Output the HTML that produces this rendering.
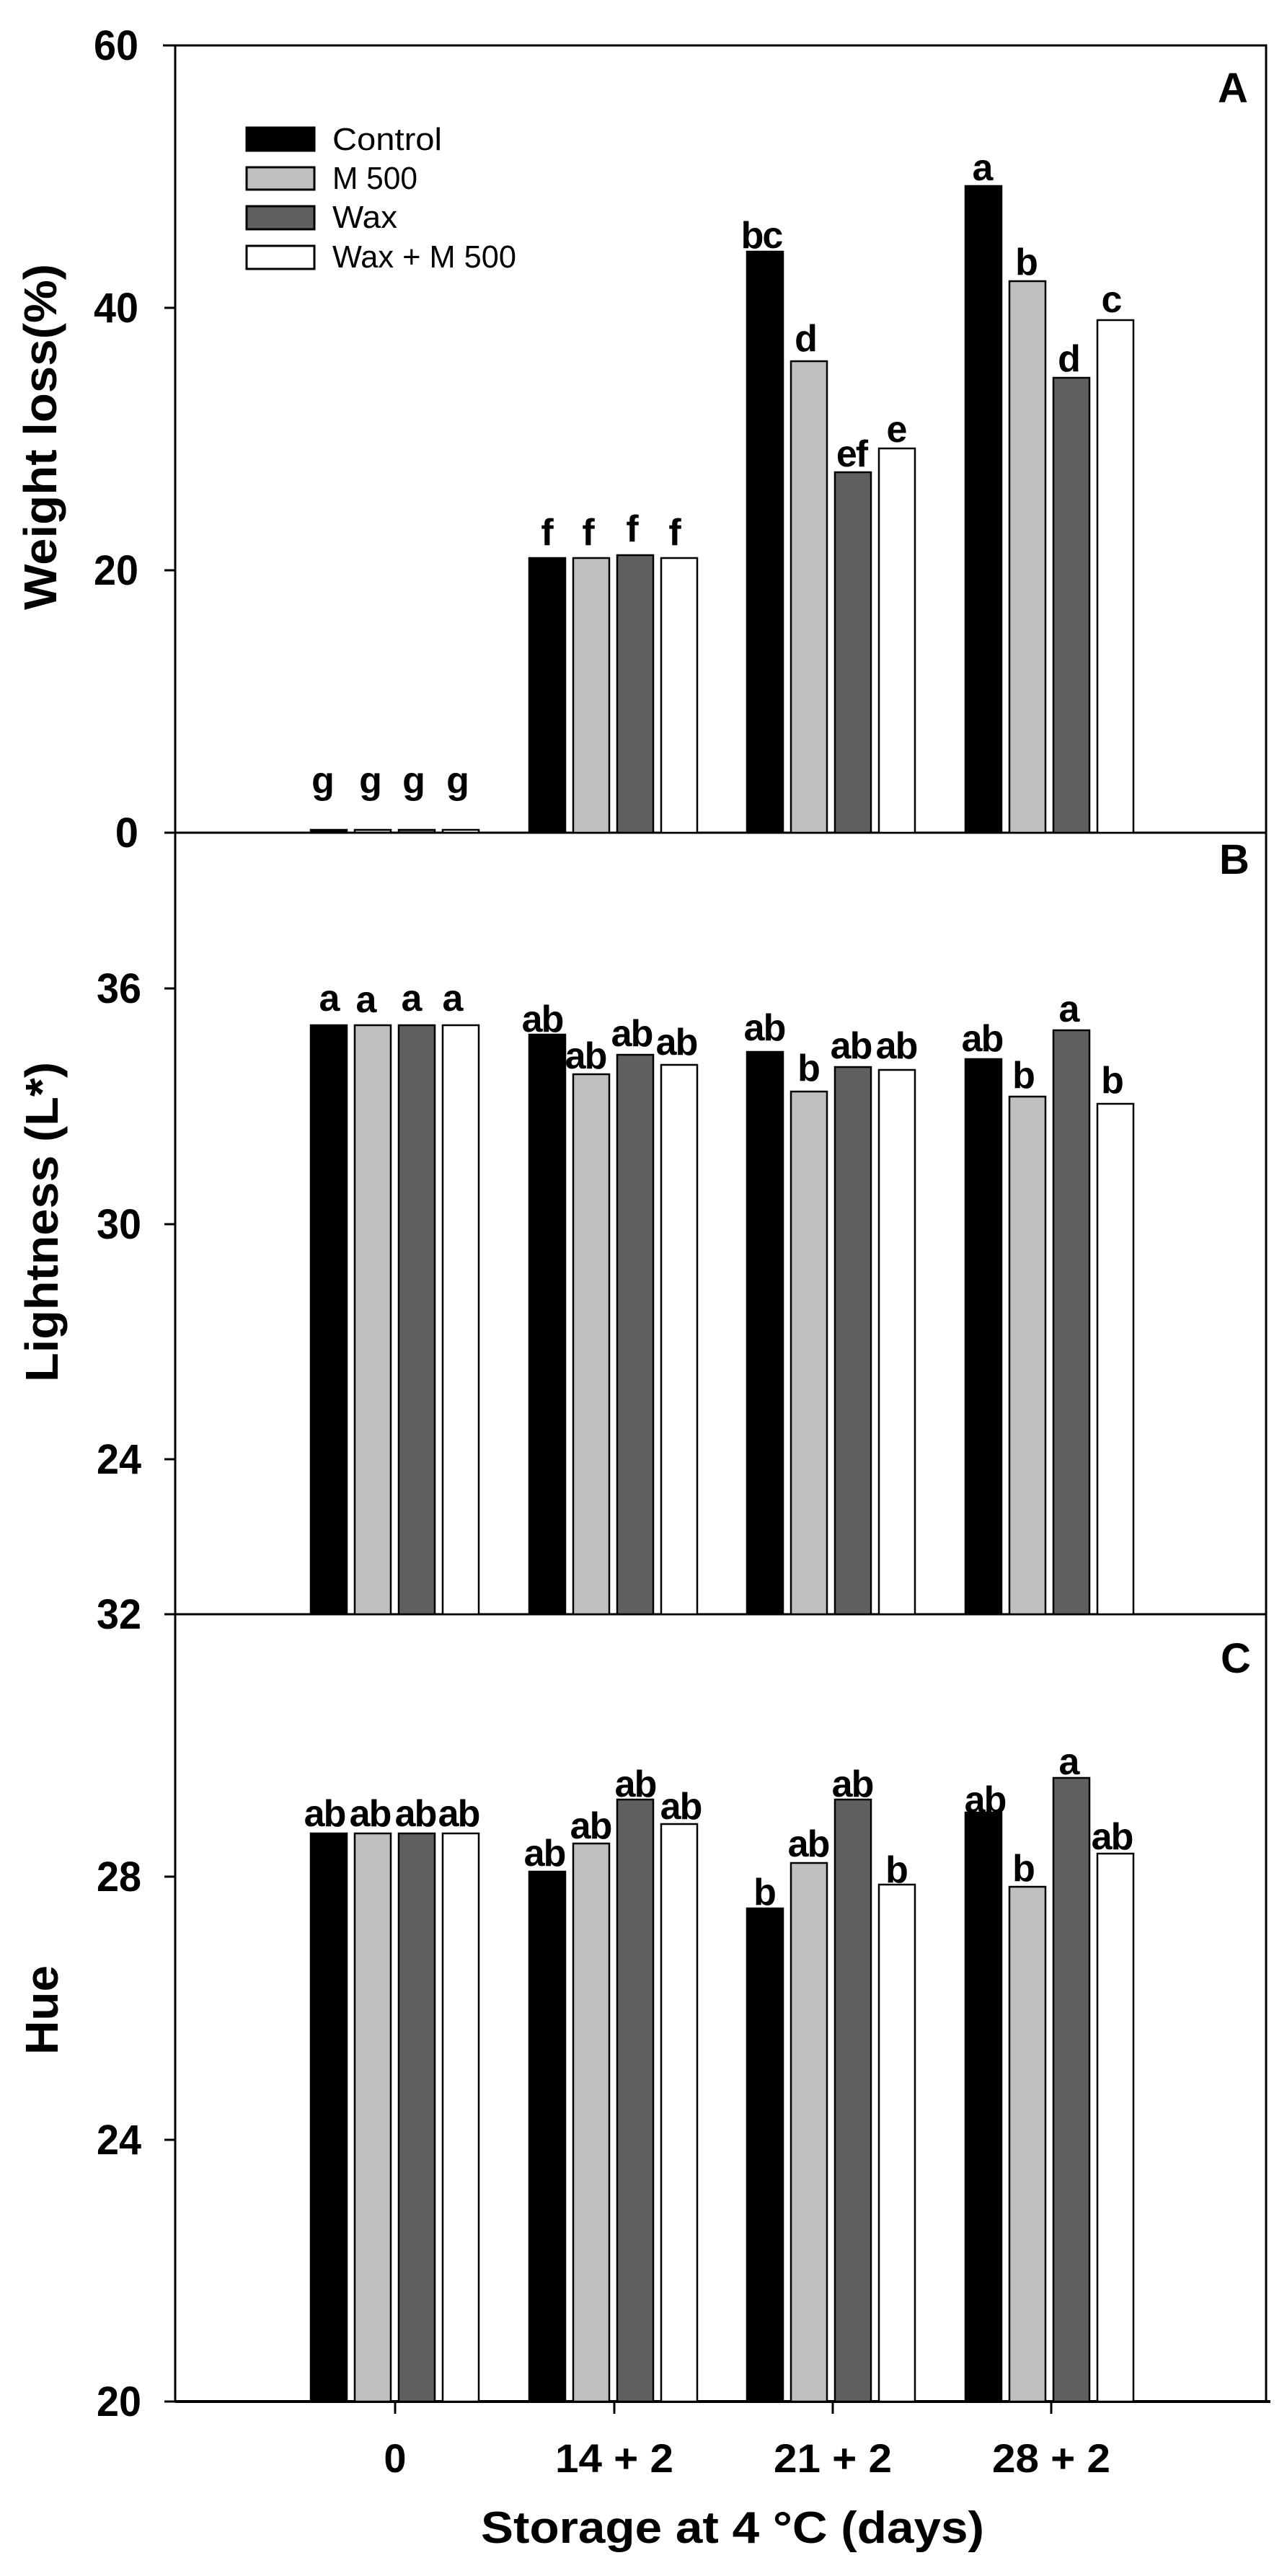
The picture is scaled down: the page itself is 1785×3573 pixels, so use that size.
<!DOCTYPE html>
<html><head><meta charset="utf-8"><style>
html,body{margin:0;padding:0;background:#fff;}
svg{display:block;}
text{font-family:"Liberation Sans",Arial,sans-serif;font-weight:bold;fill:#000;}
.lt text{letter-spacing:-2px;}
</style></head><body>
<svg width="1785" height="3573" viewBox="0 0 1785 3573" xmlns="http://www.w3.org/2000/svg">
<g stroke="#000" stroke-width="3" fill="none">
<rect x="243" y="63" width="1513" height="1092"/>
<rect x="243" y="1155" width="1513" height="1084"/>
<rect x="243" y="2239" width="1513" height="1092"/>
<line x1="243" y1="3331" x2="1762" y2="3331" stroke-width="4"/>
<line x1="226" y1="63" x2="243" y2="63"/>
<line x1="228" y1="427" x2="243" y2="427"/>
<line x1="228" y1="791" x2="243" y2="791"/>
<line x1="228" y1="1155" x2="243" y2="1155"/>
<line x1="228" y1="1371" x2="243" y2="1371"/>
<line x1="228" y1="1698" x2="243" y2="1698"/>
<line x1="228" y1="2024" x2="243" y2="2024"/>
<line x1="228" y1="2239" x2="243" y2="2239"/>
<line x1="228" y1="2603" x2="243" y2="2603"/>
<line x1="228" y1="2968" x2="243" y2="2968"/>
<line x1="228" y1="3331" x2="243" y2="3331"/>
<line x1="548" y1="3331" x2="548" y2="3348"/>
<line x1="852" y1="3331" x2="852" y2="3348"/>
<line x1="1155" y1="3331" x2="1155" y2="3348"/>
<line x1="1458" y1="3331" x2="1458" y2="3348"/>
</g>

<g font-size="58" text-anchor="end">
<text x="192" y="83" textLength="62" lengthAdjust="spacingAndGlyphs">60</text>
<text x="192" y="447" textLength="62" lengthAdjust="spacingAndGlyphs">40</text>
<text x="192" y="811" textLength="62" lengthAdjust="spacingAndGlyphs">20</text>
<text x="192" y="1175">0</text>
<text x="196" y="1391" textLength="62" lengthAdjust="spacingAndGlyphs">36</text>
<text x="196" y="1718" textLength="62" lengthAdjust="spacingAndGlyphs">30</text>
<text x="196" y="2044" textLength="62" lengthAdjust="spacingAndGlyphs">24</text>
<text x="196" y="2259" textLength="62" lengthAdjust="spacingAndGlyphs">32</text>
<text x="196" y="2623" textLength="62" lengthAdjust="spacingAndGlyphs">28</text>
<text x="196" y="2988" textLength="62" lengthAdjust="spacingAndGlyphs">24</text>
<text x="196" y="3351" textLength="62" lengthAdjust="spacingAndGlyphs">20</text>
</g>

<g font-size="56" text-anchor="middle">
<text x="548" y="3429">0</text>
<text x="852" y="3429" textLength="164" lengthAdjust="spacingAndGlyphs">14 + 2</text>
<text x="1155" y="3429" textLength="164" lengthAdjust="spacingAndGlyphs">21 + 2</text>
<text x="1458" y="3429" textLength="164" lengthAdjust="spacingAndGlyphs">28 + 2</text>
<text x="1016" y="3527" textLength="698" lengthAdjust="spacingAndGlyphs" font-size="62">Storage at 4 °C (days)</text>
</g>

<g font-size="64" text-anchor="middle">
<text transform="translate(78,606) rotate(-90)" textLength="480" lengthAdjust="spacingAndGlyphs">Weight loss(%)</text>
<text transform="translate(80,1695) rotate(-90)" textLength="444" lengthAdjust="spacingAndGlyphs">Lightness (L*)</text>
<text transform="translate(80,2788) rotate(-90)" textLength="124" lengthAdjust="spacingAndGlyphs">Hue</text>
</g>

<g font-size="58" text-anchor="middle">
<text x="1710" y="142">A</text>
<text x="1712" y="1212">B</text>
<text x="1714" y="2320">C</text>
</g>

<g stroke="#000" stroke-width="3">
<rect x="342" y="177" width="94" height="32" fill="#000"/>
<rect x="342" y="232" width="94" height="31" fill="#c0c0c0"/>
<rect x="342" y="286" width="94" height="32" fill="#606060"/>
<rect x="342" y="341" width="94" height="32" fill="#fff"/>
</g>
<g font-size="44">
<text x="461" y="208" style="font-weight:normal" textLength="152" lengthAdjust="spacingAndGlyphs">Control</text>
<text x="461" y="262" style="font-weight:normal" textLength="118" lengthAdjust="spacingAndGlyphs">M 500</text>
<text x="461" y="316" style="font-weight:normal" textLength="90" lengthAdjust="spacingAndGlyphs">Wax</text>
<text x="461" y="371" style="font-weight:normal" textLength="255" lengthAdjust="spacingAndGlyphs">Wax + M 500</text>
</g>

<g stroke="#000" stroke-width="2.5">
<rect x="431" y="1151" width="50" height="4" fill="#000"/>
<rect x="492" y="1151" width="50" height="4" fill="#c0c0c0"/>
<rect x="553" y="1151" width="50" height="4" fill="#606060"/>
<rect x="614" y="1151" width="50" height="4" fill="#fff"/>
<rect x="734" y="774" width="50" height="381" fill="#000"/>
<rect x="795" y="774" width="50" height="381" fill="#c0c0c0"/>
<rect x="856" y="770" width="50" height="385" fill="#606060"/>
<rect x="917" y="774" width="50" height="381" fill="#fff"/>
<rect x="1036" y="349" width="50" height="806" fill="#000"/>
<rect x="1097" y="501" width="50" height="654" fill="#c0c0c0"/>
<rect x="1158" y="655" width="50" height="500" fill="#606060"/>
<rect x="1219" y="622" width="50" height="533" fill="#fff"/>
<rect x="1339" y="258" width="50" height="897" fill="#000"/>
<rect x="1400" y="390" width="50" height="765" fill="#c0c0c0"/>
<rect x="1461" y="524" width="50" height="631" fill="#606060"/>
<rect x="1522" y="444" width="50" height="711" fill="#fff"/>
</g>

<g stroke="#000" stroke-width="2.5">
<rect x="431" y="1422" width="50" height="817" fill="#000"/>
<rect x="492" y="1422" width="50" height="817" fill="#c0c0c0"/>
<rect x="553" y="1422" width="50" height="817" fill="#606060"/>
<rect x="614" y="1422" width="50" height="817" fill="#fff"/>
<rect x="734" y="1435" width="50" height="804" fill="#000"/>
<rect x="795" y="1490" width="50" height="749" fill="#c0c0c0"/>
<rect x="856" y="1463" width="50" height="776" fill="#606060"/>
<rect x="917" y="1477" width="50" height="762" fill="#fff"/>
<rect x="1036" y="1459" width="50" height="780" fill="#000"/>
<rect x="1097" y="1514" width="50" height="725" fill="#c0c0c0"/>
<rect x="1158" y="1480" width="50" height="759" fill="#606060"/>
<rect x="1219" y="1484" width="50" height="755" fill="#fff"/>
<rect x="1339" y="1469" width="50" height="770" fill="#000"/>
<rect x="1400" y="1521" width="50" height="718" fill="#c0c0c0"/>
<rect x="1461" y="1429" width="50" height="810" fill="#606060"/>
<rect x="1522" y="1531" width="50" height="708" fill="#fff"/>
</g>

<g stroke="#000" stroke-width="2.5">
<rect x="431" y="2543" width="50" height="788" fill="#000"/>
<rect x="492" y="2543" width="50" height="788" fill="#c0c0c0"/>
<rect x="553" y="2543" width="50" height="788" fill="#606060"/>
<rect x="614" y="2543" width="50" height="788" fill="#fff"/>
<rect x="734" y="2596" width="50" height="735" fill="#000"/>
<rect x="795" y="2557" width="50" height="774" fill="#c0c0c0"/>
<rect x="856" y="2496" width="50" height="835" fill="#606060"/>
<rect x="917" y="2530" width="50" height="801" fill="#fff"/>
<rect x="1036" y="2647" width="50" height="684" fill="#000"/>
<rect x="1097" y="2584" width="50" height="747" fill="#c0c0c0"/>
<rect x="1158" y="2496" width="50" height="835" fill="#606060"/>
<rect x="1219" y="2614" width="50" height="717" fill="#fff"/>
<rect x="1339" y="2514" width="50" height="817" fill="#000"/>
<rect x="1400" y="2617" width="50" height="714" fill="#c0c0c0"/>
<rect x="1461" y="2466" width="50" height="865" fill="#606060"/>
<rect x="1522" y="2571" width="50" height="760" fill="#fff"/>
</g>

<g class="lt" font-size="52" text-anchor="middle">
<text x="447" y="1100">g</text><text x="513" y="1100">g</text><text x="573" y="1100">g</text><text x="634" y="1100">g</text>
<text x="758" y="756">f</text><text x="815" y="756">f</text><text x="876" y="751">f</text><text x="935" y="756">f</text>
<text x="1056" y="344">bc</text><text x="1117" y="487">d</text><text x="1181" y="647">ef</text><text x="1243" y="613">e</text>
<text x="1362" y="250">a</text><text x="1423" y="381">b</text><text x="1482" y="515">d</text><text x="1541" y="433">c</text>

<text x="456" y="1402">a</text><text x="507" y="1404">a</text><text x="570" y="1402">a</text><text x="627" y="1402">a</text>
<text x="752" y="1431">ab</text><text x="812" y="1482">ab</text><text x="876" y="1451">ab</text><text x="938" y="1463">ab</text>
<text x="1060" y="1443">ab</text><text x="1121" y="1499">b</text><text x="1180" y="1468">ab</text><text x="1243" y="1468">ab</text>
<text x="1362" y="1458">ab</text><text x="1419" y="1509">b</text><text x="1482" y="1417">a</text><text x="1542" y="1516">b</text>

<text x="450" y="2533">ab</text><text x="513" y="2533">ab</text><text x="576" y="2533">ab</text><text x="636" y="2533">ab</text>
<text x="755" y="2588">ab</text><text x="819" y="2550">ab</text><text x="881" y="2492">ab</text><text x="944" y="2523">ab</text>
<text x="1060" y="2642">b</text><text x="1121" y="2575">ab</text><text x="1182" y="2492">ab</text><text x="1243" y="2611">b</text>
<text x="1366" y="2514">ab</text><text x="1419" y="2609">b</text><text x="1482" y="2461">a</text><text x="1542" y="2565">ab</text>
</g>
</svg>
</body></html>
